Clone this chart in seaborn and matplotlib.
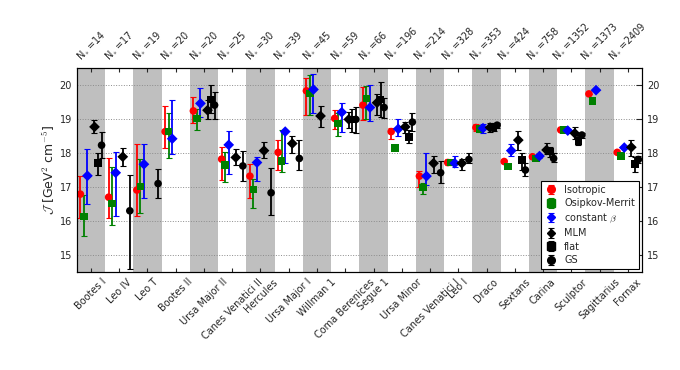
import numpy as np
import pandas as pd
import matplotlib
matplotlib.use("Agg")
import matplotlib.pyplot as plt
import seaborn as sns
from matplotlib.lines import Line2D

# ============================================================
# DATA
# ============================================================

galaxies = ["Bootes I", "Leo IV", "Leo T", "Bootes II", "Ursa Major II",
            "Canes Venatici II", "Hercules", "Ursa Major I", "Willman 1",
            "Coma Berenices", "Segue 1", "Ursa Minor", "Canes Venatici I",
            "Leo I", "Draco", "Sextans", "Carina", "Sculptor", "Sagittarius",
            "Fornax"]

n_stars = [14, 17, 19, 20, 20, 25, 30, 39, 45, 59, 66, 196, 214, 328, 353,
           424, 758, 1352, 1373, 2409]

nan = np.nan

# isotropic
iso_J  = [16.79, 16.70, 16.91, 18.63, 19.24, 17.82, 17.32, 18.02, 19.83, 19.02,
          19.41, 18.63, 17.32, 17.72, 18.75, 17.75, 17.89, 18.68, 19.74, 18.02]
iso_hi = [17.33, 17.84, 18.26, 19.38, 19.64, 18.17, 17.68, 18.38, 20.20, 19.28,
          19.95, 18.73, 17.48, 17.81, 18.85, 17.80, 17.94, 18.72, 19.74, 18.02]
iso_lo = [16.10, 16.08, 16.15, 18.16, 18.87, 17.21, 16.67, 17.50, 19.12, 18.70,
          18.97, 18.41, 16.99, 17.64, 18.66, 17.70, 17.84, 18.64, 19.74, 18.02]

# Osipkov-Merritt
om_J  = [16.13, 16.52, 17.01, 18.63, 19.02, 17.65, 16.93, 17.76, 19.75, 18.87,
         19.61, 18.14, 16.98, 17.72, 18.71, 17.60, 17.84, 18.68, 19.53, 17.91]
om_hi = [16.76, 17.60, 17.81, 19.17, 19.31, 18.04, 17.23, 18.68, 20.29, 19.17,
         19.97, 18.20, 17.13, 17.78, 18.80, 17.65, 17.89, 18.72, 19.53, 17.91]
om_lo = [15.56, 15.88, 16.24, 17.84, 18.68, 17.16, 16.39, 17.45, 19.12, 18.50,
         18.99, 18.08, 16.79, 17.66, 18.62, 17.55, 17.79, 18.64, 19.53, 17.91]

# constant beta
cb_J  = [17.33, 17.42, 17.67, 18.42, 19.46, 18.24, 17.72, 18.63, 19.87, 19.20,
         19.34, 18.71, 17.32, 17.70, 18.73, 18.07, 17.91, 18.66, 19.85, 18.16]
cb_hi = [18.13, 18.02, 18.26, 19.56, 19.90, 18.66, 17.87, 18.68, 20.34, 19.48,
         20.00, 19.00, 17.99, 17.91, 18.85, 18.28, 17.97, 18.70, 19.85, 18.16]
cb_lo = [16.49, 16.15, 16.69, 17.96, 19.07, 17.38, 17.19, 17.72, 19.17, 18.63,
         18.95, 18.50, 17.06, 17.60, 18.60, 17.91, 17.85, 18.62, 19.85, 18.16]

# MLM
mlm_J  = [18.77, 17.89, nan, nan, 19.26, 17.87, 18.07, 18.28, 19.09, 18.99,
          19.48, 18.77, 17.70, 17.70, 18.75, 18.38, 18.09, 18.58, nan, 18.17]
mlm_hi = [18.97, 18.16, nan, nan, 19.56, 18.11, 18.33, 18.50, 19.38, 19.21,
          19.75, 18.92, 17.92, 17.81, 18.87, 18.66, 18.30, 18.77, nan, 18.38]
mlm_lo = [18.58, 17.62, nan, nan, 18.99, 17.65, 17.84, 17.99, 18.77, 18.73,
          19.12, 18.60, 17.42, 17.50, 18.63, 18.09, 17.97, 18.40, nan, 17.91]

# flat
flat_J  = [17.70, nan, nan, nan, 19.58, nan, nan, nan, nan, 18.99,
           19.58, 18.48, nan, nan, 18.77, 17.79, 18.04, 18.36, nan, 17.68]
flat_hi = [17.99, nan, nan, nan, 20.00, nan, nan, nan, nan, 19.31,
           20.10, 18.68, nan, nan, 18.89, 18.00, 18.17, 18.53, nan, 17.87]
flat_lo = [17.35, nan, nan, nan, 19.17, nan, nan, nan, nan, 18.63,
           19.07, 18.30, nan, nan, 18.65, 17.50, 17.89, 18.24, nan, 17.45]

# GS
gs_J  = [18.23, 16.30, 17.10, nan, 19.41, 17.62, 16.83, 17.84, nan, 18.99,
         19.34, 18.91, 17.42, 17.81, 18.82, 17.50, 17.84, 18.53, nan, 17.81]
gs_hi = [18.61, 17.35, 17.52, nan, 19.80, 18.07, 17.55, 18.38, nan, 19.36,
         19.61, 19.17, 17.76, 17.99, 18.89, 17.70, 17.99, 18.60, nan, 17.91]
gs_lo = [17.84, 14.60, 16.69, nan, 18.99, 17.19, 16.18, 17.50, nan, 18.60,
         19.02, 18.66, 17.13, 17.70, 18.75, 17.32, 17.75, 18.43, nan, 17.70]

methods = ["Isotropic", "Osipkov-Merrit", r"constant $\beta$", "MLM", "flat", "GS"]
values = [(iso_J, iso_hi, iso_lo), (om_J, om_hi, om_lo), (cb_J, cb_hi, cb_lo),
          (mlm_J, mlm_hi, mlm_lo), (flat_J, flat_hi, flat_lo), (gs_J, gs_hi, gs_lo)]

colors = {m: c for m, c in zip(methods, ["red", "green", "blue", "black", "black", "black"])}
markers = {m: k for m, k in zip(methods, ["o", "s", "D", "D", "s", "o"])}
offsets = [0.125, 0.25, 0.375, 0.625, 0.75, 0.875]

# ============================================================
# LONG FORM TABLE
# ============================================================

rows = []
for m, off, (J, hi, lo) in zip(methods, offsets, values):
    for i in range(len(galaxies)):
        if not np.isnan(J[i]):
            rows.append({"x": i + off, "J": J[i], "hi": hi[i], "lo": lo[i], "method": m})
df = pd.DataFrame(rows)

# ============================================================
# PLOT
# ============================================================

sns.set_style("white")
plt.rcParams["mathtext.fontset"] = "cm"
plt.rcParams["xtick.direction"] = "in"
plt.rcParams["ytick.direction"] = "in"

fig, ax = plt.subplots(figsize=(6.8, 3.7), dpi=100)
fig.subplots_adjust(left=0.113, right=0.944, bottom=0.265, top=0.816)

for i in range(0, len(galaxies), 2):
    ax.axvspan(i, i + 1, color="#bfbfbf", lw=0, zorder=0)

ax.yaxis.grid(True, linestyle=":", color="#8c8c8c", lw=0.7, zorder=1)

handles = []
for m in methods:
    sub = df[df["method"] == m]
    eb = ax.errorbar(sub["x"], sub["J"], yerr=[sub["J"] - sub["lo"], sub["hi"] - sub["J"]],
                     fmt="none", ecolor=colors[m], elinewidth=1.3, capsize=2,
                     capthick=0.8, zorder=2)
    mk = Line2D([], [], ls="none", marker=markers[m], color=colors[m],
                markersize=5.5 if markers[m] != "D" else 4.5)
    handles.append((eb, mk))

sns.scatterplot(data=df, x="x", y="J", hue="method", style="method",
                palette=colors, markers=markers, s=30, linewidth=0,
                legend=False, ax=ax, zorder=3)

ax.set_xlim(0, len(galaxies))
ax.set_ylim(14.5, 20.5)
ax.set_yticks([15, 16, 17, 18, 19, 20])
ax.set_xticks(np.arange(len(galaxies)) + 0.5)
ax.set_xticklabels(galaxies, rotation=45, ha="center", fontsize=7)
ax.set_xlabel("")
ax.set_ylabel(r"$\mathcal{J}$ [GeV$^2$ cm$^{-5}$]", fontsize=9, labelpad=2)
ax.tick_params(axis="y", labelsize=7, right=True, labelright=True, length=4)
ax.tick_params(axis="x", length=3, top=False)

top = ax.twiny()
top.set_xlim(ax.get_xlim())
top.set_xticks(np.arange(len(galaxies)) + 0.5)
top.set_xticklabels([r"N$_*$=%d" % n for n in n_stars], rotation=45, ha="center", fontsize=7)
top.tick_params(axis="x", length=3, direction="in")

for a in (ax, top):
    for s in a.spines.values():
        s.set_color("black")
        s.set_linewidth(0.8)

leg = ax.legend(handles, methods, loc="lower right", fontsize=7, frameon=True,
                fancybox=False, edgecolor="black", framealpha=1, borderaxespad=0.3,
                handlelength=1.2, labelspacing=0.35)
leg.get_frame().set_linewidth(0.8)

plt.savefig("out.png", dpi=100)
